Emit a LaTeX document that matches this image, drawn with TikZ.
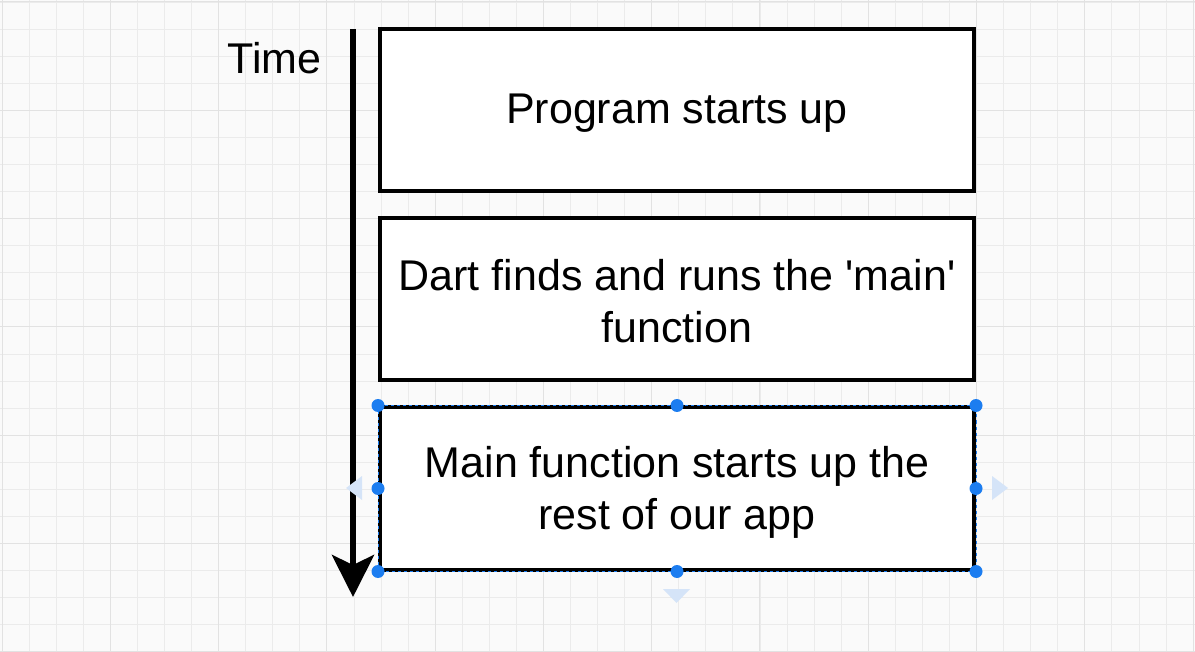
\documentclass[tikz,border=0pt]{standalone}
\usepackage{fontspec}
\setmainfont{Liberation Sans}
\usetikzlibrary{arrows.meta}
\definecolor{bg}{HTML}{FAFAFA}
\definecolor{gridc}{HTML}{EBEBEB}
\definecolor{gridmaj}{HTML}{E2E2E2}
\definecolor{handle}{HTML}{1C7DF0}
\definecolor{ghost}{HTML}{D5E4F8}
\tikzset{
  stepbox/.style={draw=black, line width=4pt, fill=white, minimum width=594pt, minimum height=162pt, inner sep=0pt, align=center},
  boxtext/.style={align=center, inner sep=0pt, font=\fontsize{43}{52}\selectfont},
  timeline/.style={line width=6pt, -{Stealth[length=42pt, width=42pt, inset=10pt]}},
  hdl/.style={circle, fill=handle, inner sep=0pt, minimum size=13pt},
  ghosttri/.style={fill=ghost, draw=none}
}
\begin{document}
\begin{tikzpicture}[x=1pt, y=-1pt]
\useasboundingbox (0,0) rectangle (1195,652);
\fill[bg] (0,0) rectangle (1195,652);
% grid
\foreach \i in {0,...,44} {
  \draw[gridc, line width=0.8pt] ({2+27.07*\i},0) -- ({2+27.07*\i},652);
}
\foreach \i in {0,...,24} {
  \draw[gridc, line width=0.8pt] (0,{2+27.07*\i}) -- (1195,{2+27.07*\i});
}
\foreach \i in {0,...,11} {
  \draw[gridmaj, line width=1pt] ({2+108.28*\i},0) -- ({2+108.28*\i},652);
}
\foreach \i in {0,...,6} {
  \draw[gridmaj, line width=1pt] (0,{2+108.28*\i}) -- (1195,{2+108.28*\i});
}
% boxes
\node[stepbox] (b1) at (677,110) {};
\node[stepbox] (b2) at (677,299) {};
\node[stepbox] (b3) at (677,488.5) {};
\node[boxtext] (t1) at (677,113) {Program starts up};
\node[boxtext] (t2) at (677,301) {Dart finds and runs the \textquotesingle main\textquotesingle\\function};
\node[boxtext] (t3) at (677,492) {Main function starts up the\\rest of our app};
% selection overlay on b3
\draw[handle, line width=1pt, dash pattern=on 3pt off 3pt] (b3.north west) rectangle (b3.south east);
% time arrow
\coordinate (tstart) at (353,29);
\coordinate (tend) at (353,597);
\draw[timeline] (tstart) -- (tend);
\node[font=\fontsize{43}{50}\selectfont, anchor=east] (time) at (325,58) {Time};
% handles
\foreach \a in {north west, north, north east, west, east, south west, south, south east} {
  \node[hdl] at (b3.\a) {};
}
% ghost arrows
\fill[ghosttri] (992,476) -- (1008,488) -- (992,500) -- cycle;
\fill[ghosttri] (362,476) -- (346,488) -- (362,500) -- cycle;
\fill[ghosttri] (663,589) -- (690,589) -- (676.5,603) -- cycle;
\end{tikzpicture}
\end{document}
